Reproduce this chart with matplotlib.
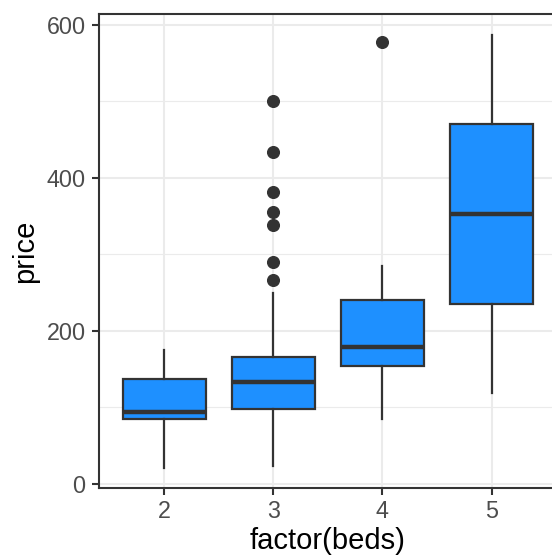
"""Boxplot of price by number of beds, ggplot theme_bw look."""

import matplotlib

matplotlib.use("Agg")
import matplotlib.pyplot as plt
from matplotlib.ticker import MultipleLocator

# Box summaries
beds = ["2", "3", "4", "5"]
whislo = [21, 23, 85, 118]
q1 = [85, 98, 154, 235]
med = [94, 133, 179, 353]
q3 = [137, 165, 240, 470]
whishi = [175, 249, 284, 587]
outliers = [
    [],
    [500, 434, 381, 355, 338, 290, 266],
    [577],
    [],
]

FILL = "#1E90FF"
INK = "#333333"
GRID = "#EBEBEB"

plt.rcParams["font.family"] = ["Liberation Sans", "DejaVu Sans"]

fig = plt.figure(figsize=(5.52, 5.59), dpi=100)
ax = fig.add_axes([0.179, 0.1265, 0.830, 0.8485])

stats = []
for i, name in enumerate(beds):
    stats.append(
        {
            "label": name,
            "whislo": whislo[i],
            "q1": q1[i],
            "med": med[i],
            "q3": q3[i],
            "whishi": whishi[i],
            "fliers": outliers[i],
        }
    )

positions = list(range(1, len(beds) + 1))
ax.bxp(
    stats,
    positions=positions,
    widths=0.76,
    patch_artist=True,
    showcaps=False,
    boxprops=dict(facecolor=FILL, edgecolor=INK, linewidth=1.6),
    medianprops=dict(color=INK, linewidth=3.2, solid_capstyle="butt"),
    whiskerprops=dict(color=INK, linewidth=1.6),
    flierprops=dict(
        marker="o",
        markerfacecolor=INK,
        markeredgecolor=INK,
        markersize=8.4,
        linestyle="none",
    ),
    zorder=3,
)

ax.set_xlim(0.4, 4.6)
ax.set_ylim(-6, 614)
ax.set_xticks(positions)
ax.set_xticklabels(beds)
ax.yaxis.set_major_locator(MultipleLocator(200))
ax.yaxis.set_minor_locator(MultipleLocator(100))

ax.grid(True, which="major", color=GRID, linewidth=1.5, zorder=0)
ax.grid(True, which="minor", axis="y", color=GRID, linewidth=0.8, zorder=0)
ax.set_axisbelow(True)

for spine in ax.spines.values():
    spine.set_color(INK)
    spine.set_linewidth(1.5)

ax.tick_params(
    axis="both", which="major", length=5, width=1.5, color=INK,
    labelsize=16.8, labelcolor="#4D4D4D",
)
ax.tick_params(axis="y", which="major", pad=4.5)
ax.tick_params(axis="x", which="major", pad=3.5)
ax.tick_params(axis="y", which="minor", length=0)

ax.set_xlabel("factor(beds)", fontsize=21, color="black", labelpad=3)
ax.set_ylabel("price", fontsize=21, color="black", labelpad=5)

fig.savefig("out.png", dpi=100)
